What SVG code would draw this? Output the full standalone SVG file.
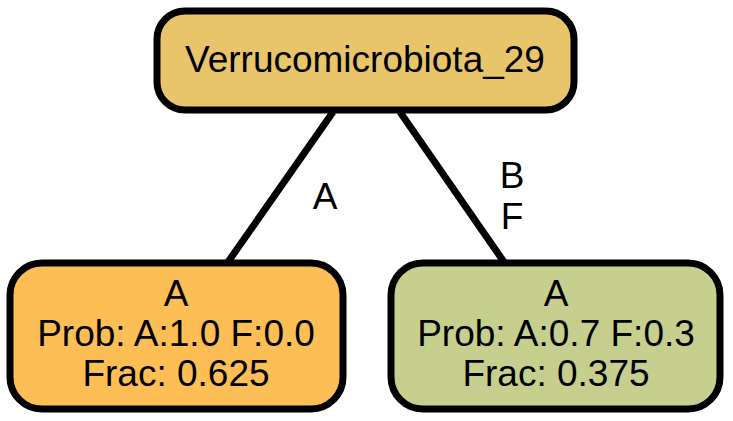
<svg xmlns="http://www.w3.org/2000/svg" width="733" height="421" viewBox="0 0 733 421">
<style>
.n{stroke:#000;stroke-width:7}
.t{font-family:"Liberation Sans",Arial,sans-serif;font-size:37px;fill:#000;text-anchor:middle}
.e{stroke:#000;stroke-width:7;fill:none}
</style>
<rect width="733" height="421" fill="#fff"/>
<g id="edges">
<line class="e" x1="333" y1="112" x2="228" y2="262"/>
<text class="t" x="325" y="209">A</text>
<line class="e" x1="400" y1="112" x2="504" y2="262"/>
<text class="t" x="512" y="188">B</text>
<text class="t" x="512" y="229">F</text>
</g>
<g id="root">
<rect class="n" x="157" y="11" width="417" height="99" rx="28" fill="#E8C56A"/>
<text class="t" x="365" y="72">Verrucomicrobiota_29</text>
</g>
<g id="left">
<rect class="n" x="10" y="263" width="333" height="146" rx="32" fill="#FDBE55"/>
<text class="t" x="176" y="306">A</text>
<text class="t" x="176" y="346">Prob: A:1.0 F:0.0</text>
<text class="t" x="176" y="386">Frac: 0.625</text>
</g>
<g id="right">
<rect class="n" x="391" y="263" width="329" height="146" rx="32" fill="#C6CF8E"/>
<text class="t" x="556" y="306">A</text>
<text class="t" x="556" y="346">Prob: A:0.7 F:0.3</text>
<text class="t" x="556" y="386">Frac: 0.375</text>
</g>
</svg>
